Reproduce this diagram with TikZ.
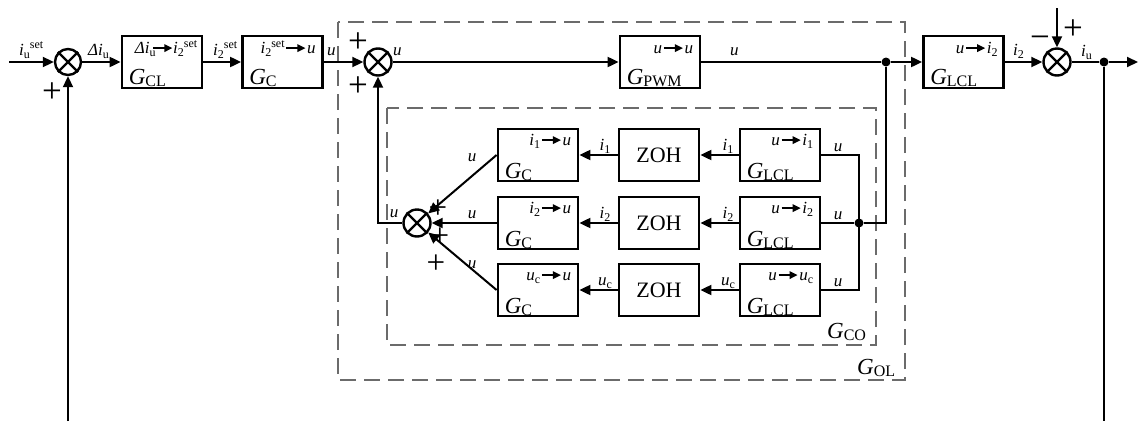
\documentclass[tikz,border=0pt]{standalone}
\usepackage{fontspec}
\setmainfont{Liberation Serif}
\usetikzlibrary{arrows.meta}
\newcommand\ssub[1]{\raisebox{-3.5pt}{\fontsize{12}{12}\selectfont\upshape #1}}
\newcommand\ssup[1]{\raisebox{7pt}{\fontsize{12}{12}\selectfont\upshape #1}}
\newcommand\gsub[1]{\raisebox{-2.5pt}{\fontsize{16}{16}\selectfont\upshape #1}}
\newcommand\tsub[1]{\raisebox{-3pt}{\fontsize{12}{12}\selectfont\upshape #1}}
\newcommand\tsup[1]{\raisebox{6.5pt}{\fontsize{12}{12}\selectfont\upshape #1}}
\newcommand\tarr{\hspace{1pt}\tikz[baseline=-5.5pt]\draw[line width=1.6pt,-{Triangle[length=8pt,width=7.5pt]}](0pt,0pt)--(19pt,0pt);\hspace{1pt}}
\begin{document}
\begin{tikzpicture}[x=1pt,y=-1pt,
 blk/.style={draw,line width=2.8pt,minimum width=80pt,minimum height=52pt,inner sep=0pt,font=\fontsize{22}{22}\selectfont},
 sumc/.style={draw,circle,line width=2.4pt,minimum size=27pt,inner sep=0pt},
 dot/.style={circle,fill,inner sep=0pt,minimum size=9pt},
 con/.style={line width=2pt},
 arr/.style={con,-{Triangle[length=11pt,width=10pt]}},
 dbox/.style={draw=black!58,line width=2pt,dash pattern=on 16pt off 8pt},
 sig/.style={inner sep=0pt,font=\fontsize{17}{17}\selectfont\itshape},
 tf/.style={inner sep=0pt,anchor=base east,font=\fontsize{17}{17}\selectfont\itshape},
 gl/.style={inner sep=0pt,anchor=base west,font=\fontsize{23}{23}\selectfont\itshape},
 pm/.style={inner sep=0pt,font=\fontsize{35}{35}\selectfont},
 pms/.style={inner sep=0pt,font=\fontsize{33}{33}\selectfont}
]
\useasboundingbox (0,0) rectangle (1138,421);
% dashed frames
\draw[dbox] (338,22) rectangle (905,380);
\draw[dbox] (387,108) rectangle (876,345);
\node[gl] (lol) at (857,374) {G\gsub{OL}};
\node[gl] (lco) at (827,338) {G\gsub{CO}};
% summing junctions
\node[sumc,minimum size=26pt] (s1) at (68,62) {};
\node[sumc] (s2) at (378,62) {};
\node[sumc] (s3) at (1057,62) {};
\node[sumc] (s4) at (417,223) {};
\foreach \s in {s1,s2,s3,s4}
  \draw[line width=2.2pt] (\s.north east)--(\s.south west) (\s.north west)--(\s.south east);
% top row blocks
\node[blk] (gcl) at (162,62) {};
\node[blk] (gc) at (282.5,62) {};
\node[blk] (pwm) at (660,62) {};
\node[blk] (lcl) at (963.5,62) {};
\node[tf] at ([xshift=-6pt,yshift=-19pt]gcl.north east) {Δi\tsub{u}\hspace{-4pt}\tarr\hspace{-1pt}i\tsub{2}\tsup{set}};
\node[gl] at ([xshift=8pt,yshift=5pt]gcl.south west) {G\gsub{CL}};
\node[tf] at ([xshift=-8pt,yshift=-19pt]gc.north east) {i\tsub{2}\tsup{set}\tarr u};
\node[gl] at ([xshift=8pt,yshift=5pt]gc.south west) {G\gsub{C}};
\node[tf] at ([xshift=-8pt,yshift=-19pt]pwm.north east) {u\tarr u};
\node[gl] at ([xshift=8pt,yshift=5pt]pwm.south west) {G\gsub{PWM}};
\node[tf] at ([xshift=-7pt,yshift=-19pt]lcl.north east) {u\tarr i\tsub{2}};
\node[gl] at ([xshift=8pt,yshift=5pt]lcl.south west) {G\gsub{LCL}};
% dots and free ends
\node[dot] (d1) at (886,62) {};
\node[dot] (d2) at (1104,62) {};
\node[dot] (d3) at (859,223) {};
\coordinate (in) at (9,62);
\coordinate (out) at (1138,62);
\coordinate (t3) at (1057,8);
\coordinate (fl) at (68,421);
\coordinate (fr) at (1104,421);
\coordinate (c4) at (378,223);
\coordinate (b1) at (859,155);
\coordinate (b3) at (859,290);
\coordinate (c5) at (886,223);
% top connectors
\draw[arr] (in) -- (s1);
\draw[arr] (s1) -- (gcl);
\draw[arr] (gcl) -- (gc);
\draw[arr] (gc) -- (s2);
\draw[arr] (s2) -- (pwm);
\draw[con] (pwm) -- (d1);
\draw[arr] (d1) -- (lcl);
\draw[arr] (lcl) -- (s3);
\draw[con] (s3) -- (d2);
\draw[arr] (d2) -- (out);
\draw[arr] (t3) -- (s3);
\draw[arr] (fl) -- (s1);
\draw[con] (d2) -- (fr);
% top labels
\node[sig,anchor=base west] at (19,55) {i\ssub{u}\ssup{set}};
\node[sig,anchor=base west] at (88,55) {Δi\ssub{u}};
\node[sig,anchor=base west] at (213,55) {i\ssub{2}\ssup{set}};
\node[sig,anchor=base west] at (327,55) {u};
\node[sig,anchor=base west] at (393,55) {u};
\node[sig,anchor=base west] at (730,55) {u};
\node[sig,anchor=base west] at (1013,55) {i\ssub{2}};
\node[sig,anchor=base west] at (1081,56) {i\ssub{u}};
\node[pm] at (52,93) {+};
\node[pm] at (358,43) {+};
\node[pm] at (358,87) {+};
\node[pm] at (1040,42) {−};
\node[pm] at (1073,30) {+};
% inner rows
\foreach \r/\y/\a/\b in {1/155/{i\tsub{1}}/{i\ssub{1}},2/223/{i\tsub{2}}/{i\ssub{2}},3/290/{u\tsub{c}}/{u\ssub{c}}}{
  \node[blk] (gc\r) at (538,\y) {};
  \node[blk] (zoh\r) at (659,\y) {ZOH};
  \node[blk] (lcl\r) at (780,\y) {};
  \node[tf] at ([xshift=-8pt,yshift=-18pt]gc\r.north east) {\a\tarr u};
  \node[gl] at ([xshift=8pt,yshift=4pt]gc\r.south west) {G\gsub{C}};
  \node[tf] at ([xshift=-8pt,yshift=-18pt]lcl\r.north east) {u\tarr \a};
  \node[gl] at ([xshift=8pt,yshift=4pt]lcl\r.south west) {G\gsub{LCL}};
  \draw[arr] (lcl\r) -- (zoh\r);
  \draw[arr] (zoh\r) -- (gc\r);
  \draw[arr] (gc\r.west) -- (s4);
  \node[sig,anchor=base] at (728,\y-5) {\b};
  \node[sig,anchor=base] at (605,\y-5) {\b};
  \node[sig,anchor=base] at (838,\y-4) {u};
}
\node[sig,anchor=base] at (472,161) {u};
\node[sig,anchor=base] at (472,218) {u};
\node[sig,anchor=base] at (472,268) {u};
\node[sig,anchor=base] at (394,217) {u};
% bus and inner feedback
\draw[con] (lcl1.east) -- (b1) -- (b3) -- (lcl3.east);
\draw[con] (lcl2.east) -- (d3);
\draw[con] (d3) -- (c5) -- (d1);
\draw[arr] (s4) -- (c4) -- (s2);
\node[pms] at (438,209) {+};
\node[pms] at (440,237) {+};
\node[pms] at (436,264) {+};
\end{tikzpicture}
\end{document}
